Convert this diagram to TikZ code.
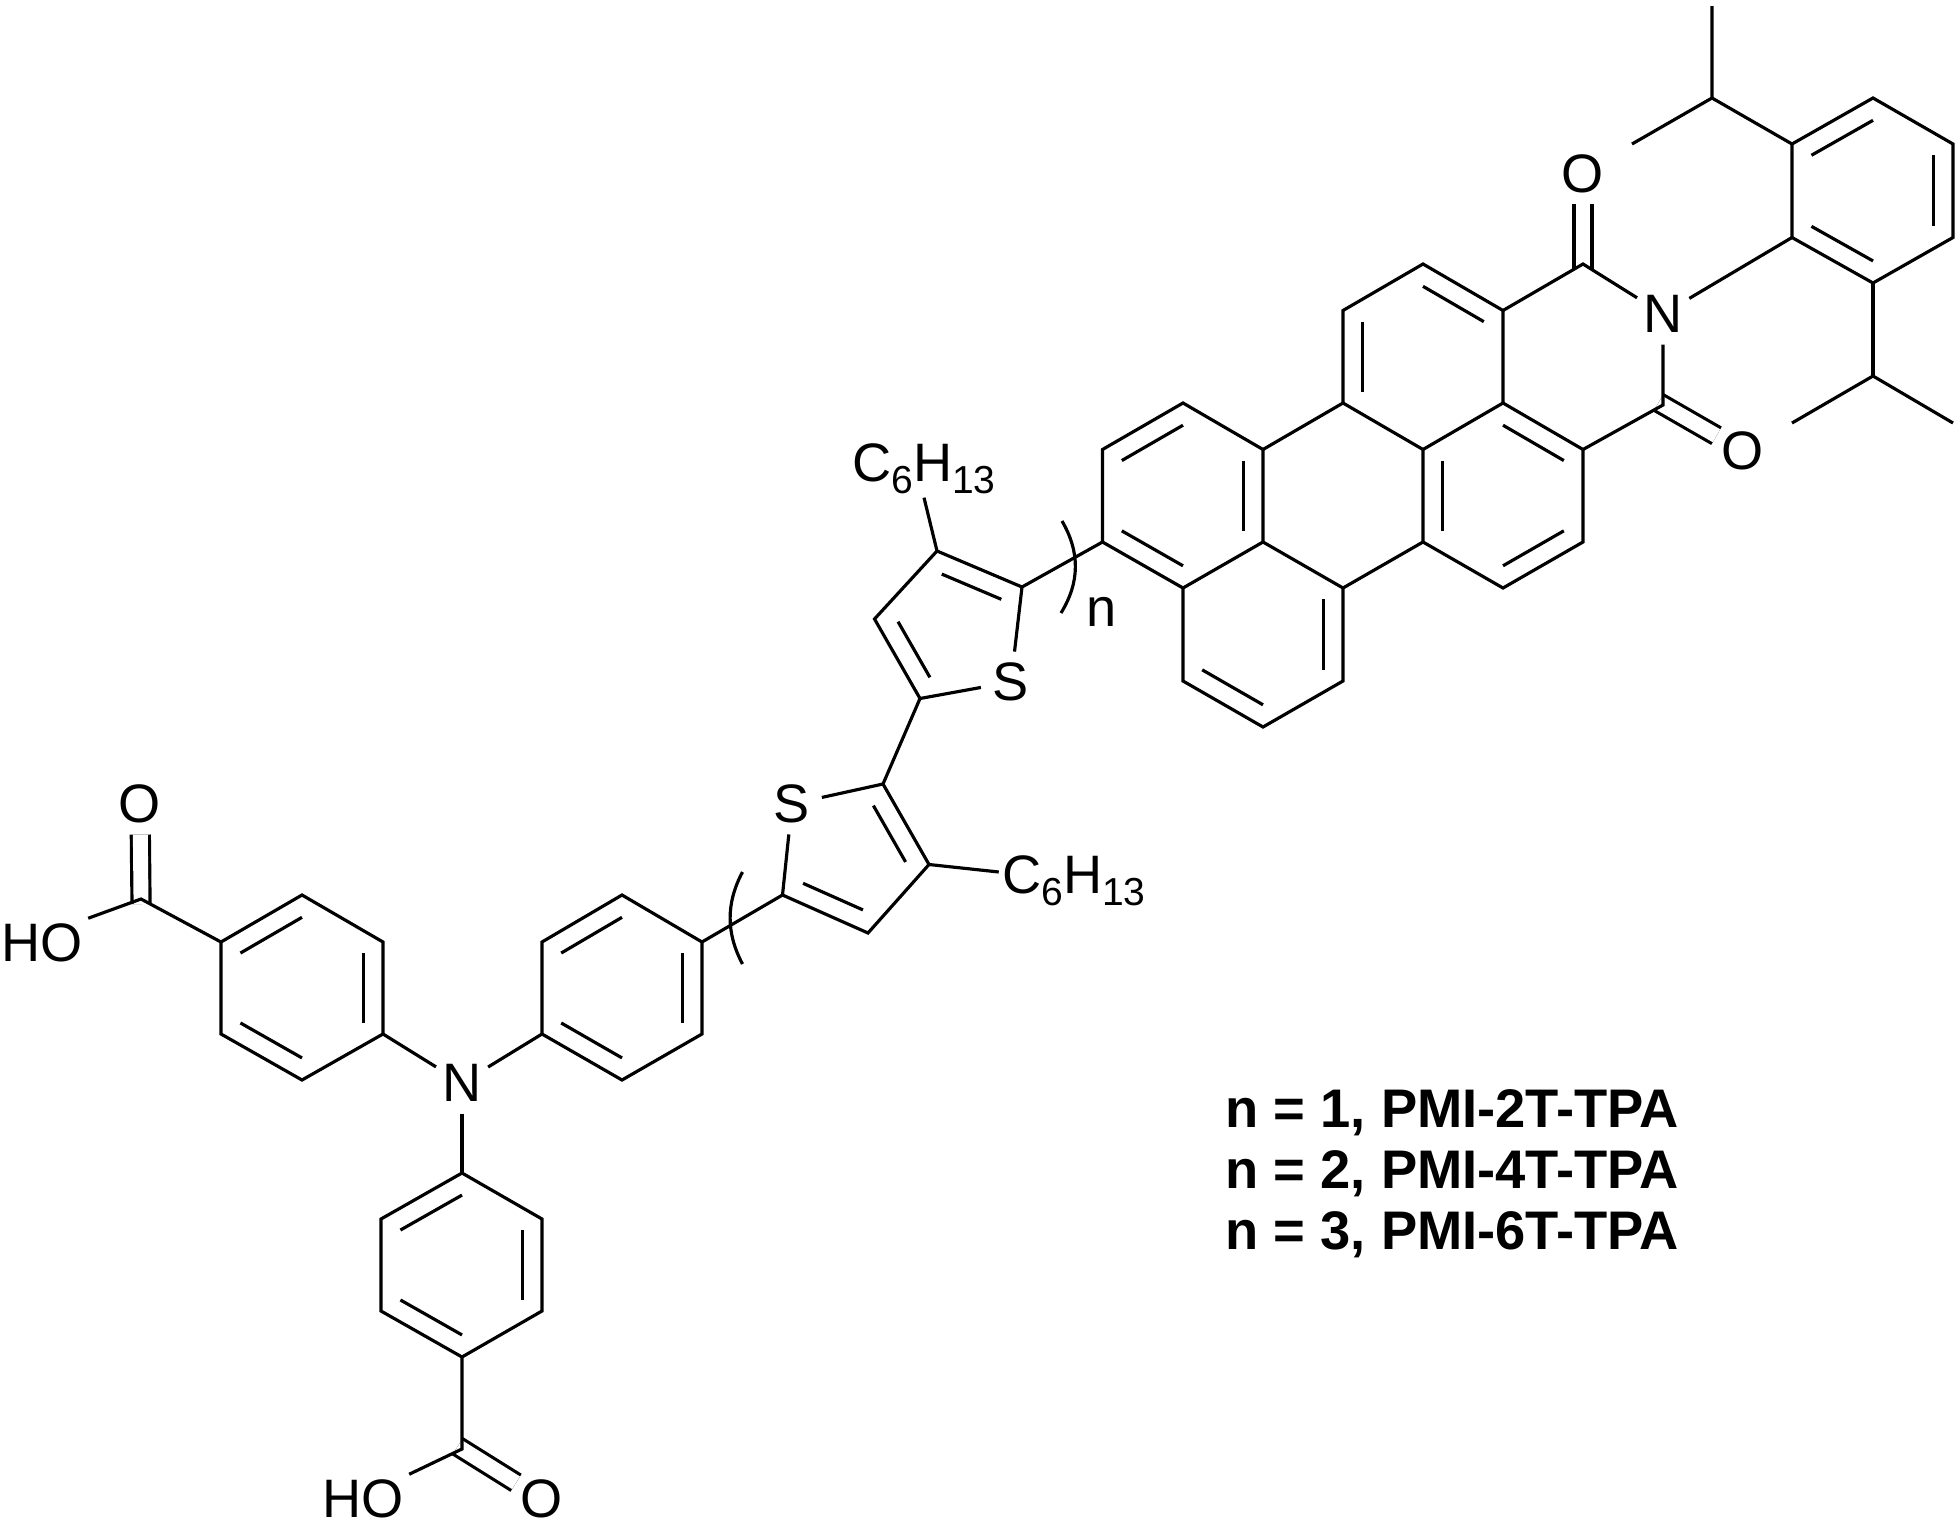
\documentclass[tikz,border=0pt]{standalone}
\usepackage{fontspec}
\setmainfont{Liberation Sans}
\usetikzlibrary{calc}
\newcommand{\inbond}[4][.24]{\draw ($(#2)!#1!(#4)$) -- ($(#3)!#1!(#4)$);}
\newcommand{\subdigit}[1]{\raisebox{-3.4pt}{\fontsize{11.1}{12}\selectfont #1}}
\tikzset{
	atom/.style={circle, inner sep=0pt, minimum size=.58cm, font=\fontsize{15.4}{18}\selectfont},
	plainlabel/.style={inner sep=.04cm, font=\fontsize{15.4}{18}\selectfont},
	namelabel/.style={anchor=west, inner sep=0pt, font=\fontsize{15.45}{18}\selectfont\bfseries},
	carbonyl/.style={double, double distance=.149cm, shorten <=-.05cm}
}

\begin{document}
\begin{tikzpicture}[x=.01cm, y=-.01cm, line width=.9pt]
	\useasboundingbox (0, 0) rectangle (1960, 1524);

	\coordinate (pa) at (1423, 264);
	\coordinate (pb) at (1343, 310.5);
	\coordinate (pc) at (1503, 310.5);
	\coordinate (pd) at (1343, 403);
	\coordinate (pe) at (1503, 403);
	\coordinate (pf) at (1423, 449.5);
	\coordinate (pg) at (1583, 264);
	\coordinate (ph) at (1663, 405);
	\coordinate (pi) at (1583, 449.5);
	\coordinate (pj) at (1583, 542);
	\coordinate (pk) at (1503, 588);
	\coordinate (pl) at (1423, 542);
	\coordinate (pm) at (1343, 588);
	\coordinate (pn) at (1263, 542);
	\coordinate (po) at (1263, 449.5);
	\coordinate (pp) at (1183, 403);
	\coordinate (pq) at (1102.5, 449.5);
	\coordinate (pr) at (1102.5, 542);
	\coordinate (ps) at (1183, 588);
	\coordinate (pt) at (1183, 681);
	\coordinate (pu) at (1263, 727);
	\coordinate (pv) at (1343, 681);
	\coordinate (ringa) at (1423, 357);
	\coordinate (ringc) at (1503, 495.5);
	\coordinate (ringd) at (1183, 495.5);
	\coordinate (ringe) at (1263, 634.5);

	\coordinate (aa) at (1792, 237.5);
	\coordinate (ab) at (1792, 144);
	\coordinate (ac) at (1873, 98);
	\coordinate (ad) at (1953, 144);
	\coordinate (ae) at (1953, 237.5);
	\coordinate (af) at (1873, 283);
	\coordinate (ringar) at (1873, 191);
	\coordinate (ipra) at (1712, 98);
	\coordinate (iprb) at (1712, 6);
	\coordinate (iprc) at (1632, 144);
	\coordinate (iprd) at (1873, 376);
	\coordinate (ipre) at (1792, 423);
	\coordinate (iprf) at (1953, 423);

	\coordinate (ta) at (1022, 587);
	\coordinate (tb) at (937, 551);
	\coordinate (tc) at (874.5, 619);
	\coordinate (td) at (920, 698.5);
	\coordinate (ringt) at (953, 628);
	\coordinate (ua) at (782.5, 895);
	\coordinate (ub) at (868, 933);
	\coordinate (uc) at (929, 864.5);
	\coordinate (ud) at (883, 784);
	\coordinate (ringu) at (851, 856);

	\coordinate (qa) at (702, 942);
	\coordinate (qb) at (622, 895);
	\coordinate (qc) at (542, 942);
	\coordinate (qd) at (542, 1034);
	\coordinate (qe) at (622, 1080);
	\coordinate (qf) at (702, 1034);
	\coordinate (ringq) at (622, 988);
	\coordinate (va) at (383, 1034);
	\coordinate (vb) at (383, 942);
	\coordinate (vc) at (302, 895);
	\coordinate (vd) at (221, 942);
	\coordinate (ve) at (221, 1034);
	\coordinate (vf) at (302, 1080);
	\coordinate (ringv) at (302, 988);
	\coordinate (wa) at (462, 1173);
	\coordinate (wb) at (542, 1219);
	\coordinate (wc) at (542, 1311);
	\coordinate (wd) at (462, 1357);
	\coordinate (we) at (381, 1311);
	\coordinate (wf) at (381, 1219);
	\coordinate (ringw) at (462, 1265);
	\coordinate (acida) at (141, 899);
	\coordinate (acidb) at (462, 1449);

	\node[atom] (nimide) at (1663, 314) {N};
	\node[atom] (oimidea) at (1583, 173.5) {O};
	\node[atom] (oimideb) at (1743, 451) {O};
	\node[atom] (sthioa) at (1011, 682) {S};
	\node[atom] (sthiob) at (792, 804) {S};
	\node[atom] (namine) at (462, 1083) {N};
	\node[atom] (oacida) at (140, 804) {O};
	\node[atom] (oacidb) at (542, 1499) {O};
	\node[plainlabel] (hoacida) at (42, 943) {HO};
	\node[plainlabel] (hoacidb) at (363, 1499) {HO};
	\node[plainlabel, inner sep=.02cm] (hexa) at (924, 469) {C\subdigit{6}H\subdigit{13}};
	\node[plainlabel, inner sep=.02cm] (hexb) at (1074, 881) {C\subdigit{6}H\subdigit{13}};
	\node[plainlabel, inner sep=0pt] (repn) at (1102, 612) {n};
	\node[namelabel] (namea) at (1224, 1113) {n = 1, PMI-2T-TPA};
	\node[namelabel] (nameb) at (1224, 1174) {n = 2, PMI-4T-TPA};
	\node[namelabel] (namec) at (1224, 1235) {n = 3, PMI-6T-TPA};

	\draw[carbonyl] (pg) -- (oimidea);
	\draw[carbonyl] (ph) -- (oimideb);
	\draw[carbonyl] (acida) -- (oacida);
	\draw[carbonyl] (acidb) -- (oacidb);

	\draw (pp) -- (pq) -- (pr) -- (ps) -- (pn) -- (po) -- cycle;
	\draw (ps) -- (pt) -- (pu) -- (pv) -- (pm) -- (pn);
	\draw (po) -- (pd) -- (pb) -- (pa) -- (pc) -- (pe) -- (pf) -- (pl) -- (pm);
	\draw (pd) -- (pf);
	\draw (pl) -- (pk) -- (pj) -- (pi) -- (pe);
	\draw (pc) -- (pg) -- (nimide);
	\draw (pi) -- (ph) -- (nimide);
	\draw (nimide) -- (aa);

	\draw (aa) -- (ab) -- (ac) -- (ad) -- (ae) -- (af) -- cycle;
	\draw (iprb) -- (ipra) -- (iprc);
	\draw (ipra) -- (ab);
	\draw (ipre) -- (iprd) -- (iprf);
	\draw (iprd) -- (af);

	\draw (pr) -- (ta) -- (tb) -- (tc) -- (td);
	\draw (ta) -- (sthioa) -- (td);
	\draw (tb) -- (hexa.south);
	\draw (td) -- (ud);
	\draw (sthiob) -- (ud) -- (uc) -- (ub) -- (ua) -- (sthiob);
	\draw (uc) -- ([yshift=.09cm]hexb.west);
	\draw (ua) -- (qa);

	\draw (qa) -- (qb) -- (qc) -- (qd) -- (qe) -- (qf) -- cycle;
	\draw (qd) -- (namine) -- (va);
	\draw (namine) -- (wa);
	\draw (va) -- (vb) -- (vc) -- (vd) -- (ve) -- (vf) -- cycle;
	\draw (wa) -- (wb) -- (wc) -- (wd) -- (we) -- (wf) -- cycle;
	\draw (vd) -- (acida) -- (hoacida.north east);
	\draw (wd) -- (acidb) -- (hoacidb.north east);

	\draw (1062, 521) .. controls (1080, 552) and (1080, 582) .. (1061, 613);
	\draw (742.5, 872) .. controls (726, 903) and (726, 933) .. (742.5, 964);

	\inbond{pa}{pc}{ringa}
	\inbond{pb}{pd}{ringa}
	\inbond{pe}{pi}{ringc}
	\inbond{pj}{pk}{ringc}
	\inbond{pf}{pl}{ringc}
	\inbond{pp}{pq}{ringd}
	\inbond{pr}{ps}{ringd}
	\inbond{po}{pn}{ringd}
	\inbond{pm}{pv}{ringe}
	\inbond{pt}{pu}{ringe}
	\inbond{ab}{ac}{ringar}
	\inbond{ad}{ae}{ringar}
	\inbond{aa}{af}{ringar}
	\inbond[.3]{tb}{ta}{ringt}
	\inbond[.3]{tc}{td}{ringt}
	\inbond[.3]{ud}{uc}{ringu}
	\inbond[.3]{ua}{ub}{ringu}
	\inbond{qb}{qc}{ringq}
	\inbond{qd}{qe}{ringq}
	\inbond{qa}{qf}{ringq}
	\inbond{vc}{vd}{ringv}
	\inbond{ve}{vf}{ringv}
	\inbond{va}{vb}{ringv}
	\inbond{wa}{wf}{ringw}
	\inbond{wb}{wc}{ringw}
	\inbond{wd}{we}{ringw}
\end{tikzpicture}
\end{document}
